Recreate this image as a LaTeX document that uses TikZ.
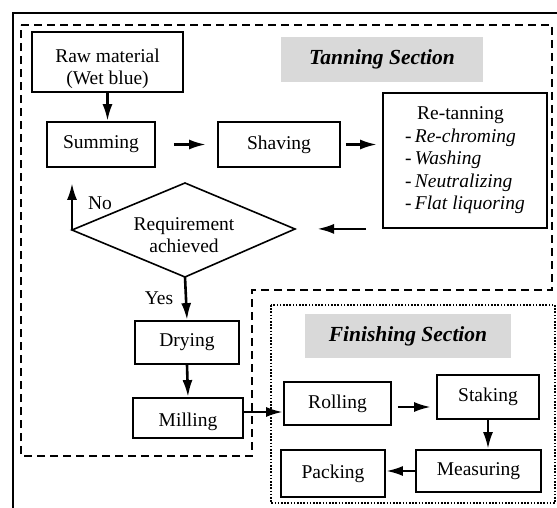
\documentclass[tikz,border=0pt]{standalone}
\usepackage{fontspec}
\setmainfont{Liberation Serif}
\usetikzlibrary{arrows.meta,calc}
\begin{document}
\begin{tikzpicture}[x=1pt,y=-1pt,
  box/.style={draw, line width=1.8pt, inner sep=0pt, align=center,
    font=\fontsize{19.5}{22}\selectfont},
  txt/.style={inner sep=0pt, align=center, font=\fontsize{19.5}{22}\selectfont},
  arr/.style={line width=2.6pt, -{Latex[length=17pt,width=10pt]}},
  sect/.style={fill=black!15, inner sep=0pt,
    font=\fontsize{21.5}{24}\selectfont\bfseries\itshape},
  tanbox/.style={line width=2.5pt, dash pattern=on 8pt off 5pt},
  finbox/.style={line width=2pt, dash pattern=on 1.6pt off 1.6pt},
  outer/.style={line width=2.4pt}
]
\useasboundingbox (0,0) rectangle (557,508);
% outer frame
\draw[outer] (13,508) -- (13,13) -- (557,13);
% section frames
\draw[tanbox] (21,25) -- (552,25) -- (552,290) -- (252,290) -- (252,456) -- (21,456) -- cycle;
\draw[finbox] (271,305) rectangle (555,503);
% section labels
\node[sect, minimum width=202pt, minimum height=45pt] (tanlbl) at (382,59.5) {Tanning Section};
\node[sect, minimum width=206pt, minimum height=44pt] (finlbl) at (408,336) {Finishing Section};
% boxes
\node[box, minimum width=151pt, minimum height=60pt] (raw) at (107.5,62) {\rule{0pt}{27pt}Raw material\\(Wet blue)};
\node[box, minimum width=108pt, minimum height=45pt] (sum) at (101,144.5) {Summing};
\node[box, minimum width=122pt, minimum height=45pt] (shav) at (279,144.5) {Shaving};
\node[box, minimum width=164pt, minimum height=135pt, align=left] (ret) at (465,160.5)
  {\hspace*{12pt}Re-tanning\\[0.5pt]
   -\,\textit{Re-chroming}\\[0.5pt]
   -\,\textit{Washing}\\[0.5pt]
   -\,\textit{Neutralizing}\\[0.5pt]
   -\,\textit{Flat liquoring}};
% decision diamond
\coordinate (dl) at (72,230);
\coordinate (dt) at (185,183);
\coordinate (dr) at (295,229);
\coordinate (db) at (185,277);
\draw[line width=1.6pt] (dl) -- (dt) -- (dr) -- (db) -- cycle;
\node[txt] (dec) at (184,235) {Requirement\\achieved};
\node[txt] (nolbl) at (100,203) {No};
\node[txt] (yeslbl) at (159,298) {Yes};
\node[box, minimum width=104pt, minimum height=43pt] (dry) at (187,342.5) {Drying};
\node[box, minimum width=110pt, minimum height=40pt] (mill) at (188,418) {\rule{0pt}{22pt}Milling};
\node[box, minimum width=107pt, minimum height=43pt] (roll) at (337.5,403.5) {Rolling};
\node[box, minimum width=102pt, minimum height=44pt] (stak) at (488,397) {Staking};
\node[box, minimum width=125pt, minimum height=42pt] (meas) at (478.5,471) {Measuring};
\node[box, minimum width=104pt, minimum height=47pt] (pack) at (333,473.5) {Packing};
% helper levels
\coordinate (mr) at (0,412);
\coordinate (rs) at (0,407);
% connectors
\draw[arr] (raw.south) -- (raw.south |- sum.north);
\draw[arr, shorten <=18pt, shorten >=11pt] (sum.east) -- (shav.west);
\draw[arr, shorten <=5pt, shorten >=5pt] (shav.east) -- (ret.west |- shav.east);
\draw[arr, shorten <=16pt, shorten >=22pt] (ret.south west) -- (dr |- ret.south west);
\draw[arr, shorten >=15pt] (dl) -- (dl |- sum.south);
\draw[arr] (db) -- (dry.north);
\draw[arr] (dry.south) -- (mill.north);
\draw[arr] (mill.east |- mr) -- (roll.west |- mr);
\draw[arr, shorten <=6pt, shorten >=5pt] (roll.east |- rs) -- (stak.west |- rs);
\draw[arr] (stak.south) -- (stak.south |- meas.north);
\draw[arr] (meas.west) -- (pack.east |- meas.west);
\end{tikzpicture}
\end{document}
